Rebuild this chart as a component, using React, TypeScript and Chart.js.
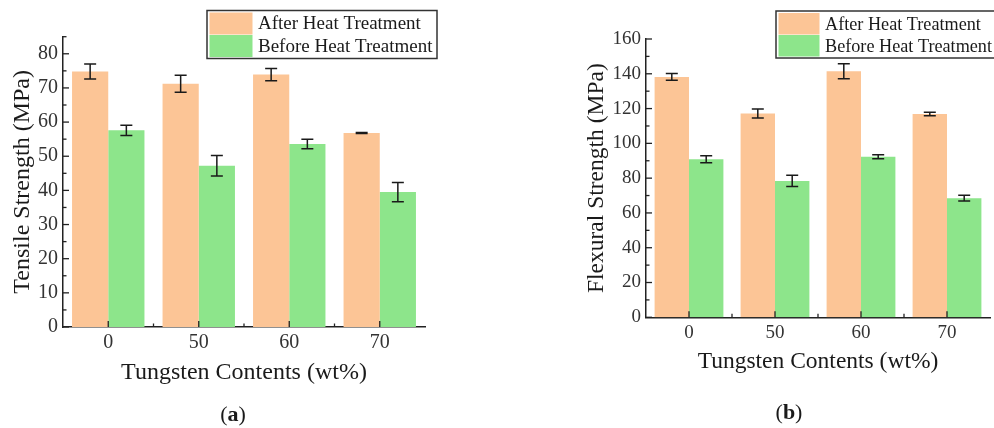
import React, { useEffect, useRef } from "react";
import { Chart, registerables } from "chart.js";

Chart.register(...registerables);

const categories = ["0", "50", "60", "70"];
const seriesNames = ["After Heat Treatment", "Before Heat Treatment"];

const tensileAfter = [74.8, 71.2, 73.9, 56.8];
const tensileAfterErr = [2.2, 2.5, 1.8, 0.12];
const tensileBefore = [57.6, 47.2, 53.6, 39.5];
const tensileBeforeErr = [1.5, 3.0, 1.4, 2.8];
const tensileTicks = [0, 10, 20, 30, 40, 50, 60, 70, 80];

const flexAfter = [138.2, 117.2, 141.5, 116.9];
const flexAfterErr = [1.9, 2.6, 4.3, 1.0];
const flexBefore = [90.9, 78.4, 92.3, 68.5];
const flexBeforeErr = [2.0, 3.2, 1.2, 1.6];
const flexTicks = [0, 20, 40, 60, 80, 100, 120, 140, 160];

const ORANGE = "#FCC596";
const GREEN = "#8DE58B";
const INK = "#1a1a1a";
const FAMILY = "'Liberation Serif', 'Times New Roman', Times, serif";

type Panel = {
  after: number[];
  afterErr: number[];
  before: number[];
  beforeErr: number[];
  yTicks: number[];
  max: number;
  minorStep: number;
  yTitle: string;
  xTitle: string;
  tickSize: number;
  titleSize: number;
  padding: { left: number; top: number; right: number; bottom: number };
  yAxisWidth: number;
  yTitlePad: number;
  xTitlePad: number;
  legendBox: { x: number; y: number; w: number; h: number };
  swatchW: number;
  legendSize: number;
  label: string;
  labelPos: { x: number; y: number };
};

function buildChart(canvas: HTMLCanvasElement, p: Panel) {
  const errors = [p.afterErr, p.beforeErr];

  const errPlugin = {
    id: "errbars",
    afterDatasetsDraw(chart: any) {
      const ctx = chart.ctx;
      const ys = chart.scales.y;
      ctx.save();
      ctx.strokeStyle = INK;
      ctx.lineWidth = 1.5;
      chart.data.datasets.forEach((ds: any, di: number) => {
        const meta = chart.getDatasetMeta(di);
        meta.data.forEach((bar: any, i: number) => {
          const v = ds.data[i];
          const e = errors[di][i];
          const x = bar.x;
          const yt = ys.getPixelForValue(v + e);
          const yb = ys.getPixelForValue(v - e);
          ctx.beginPath();
          ctx.moveTo(x, yt);
          ctx.lineTo(x, yb);
          ctx.moveTo(x - 6, yt);
          ctx.lineTo(x + 6, yt);
          ctx.moveTo(x - 6, yb);
          ctx.lineTo(x + 6, yb);
          ctx.stroke();
        });
      });
      ctx.restore();
    },
  };

  const decoPlugin = {
    id: "deco",
    afterDraw(chart: any) {
      const ctx = chart.ctx;
      const area = chart.chartArea;
      const ys = chart.scales.y;
      const xs = chart.scales.x;
      ctx.save();
      ctx.strokeStyle = "#222";
      ctx.lineWidth = 1.3;
      for (let v = 0; v <= p.max + 1e-9; v += p.minorStep) {
        const py = ys.getPixelForValue(v);
        const major = p.yTicks.some((t) => Math.abs(t - v) < 1e-6);
        const len = major ? 6 : 3.5;
        ctx.beginPath();
        ctx.moveTo(area.left, py);
        ctx.lineTo(area.left + len, py);
        ctx.stroke();
      }
      for (let i = 0; i < categories.length; i++) {
        const px = xs.getPixelForValue(i);
        ctx.beginPath();
        ctx.moveTo(px, area.bottom);
        ctx.lineTo(px, area.bottom - 6);
        ctx.stroke();
        if (i > 0) {
          const mx = (xs.getPixelForValue(i - 1) + px) / 2;
          ctx.beginPath();
          ctx.moveTo(mx, area.bottom);
          ctx.lineTo(mx, area.bottom - 3.5);
          ctx.stroke();
        }
      }
      // legend
      const b = p.legendBox;
      ctx.fillStyle = "#ffffff";
      ctx.fillRect(b.x, b.y, b.w, b.h);
      const rowH = (b.h - 4) / 2;
      const sw = p.swatchW;
      ctx.fillStyle = ORANGE;
      ctx.fillRect(b.x + 2.5, b.y + 2, sw, rowH);
      ctx.fillStyle = GREEN;
      ctx.fillRect(b.x + 2.5, b.y + 2.5 + rowH, sw, rowH);
      ctx.strokeStyle = "#333";
      ctx.lineWidth = 1.5;
      ctx.strokeRect(b.x, b.y, b.w, b.h);
      ctx.fillStyle = INK;
      ctx.font = `${p.legendSize}px ${FAMILY}`;
      ctx.textAlign = "left";
      ctx.textBaseline = "middle";
      ctx.fillText(seriesNames[0], b.x + 2.5 + sw + 5.5, b.y + 2 + rowH / 2 + 1);
      ctx.fillText(seriesNames[1], b.x + 2.5 + sw + 5.5, b.y + 2.5 + rowH * 1.5 + 1);
      // panel label
      const normal = `22px ${FAMILY}`;
      const bold = `bold 22px ${FAMILY}`;
      ctx.font = normal;
      const w1 = ctx.measureText("(").width;
      const w3 = ctx.measureText(")").width;
      ctx.font = bold;
      const w2 = ctx.measureText(p.label).width;
      let x0 = p.labelPos.x - (w1 + w2 + w3) / 2;
      ctx.font = normal;
      ctx.fillText("(", x0, p.labelPos.y);
      x0 += w1;
      ctx.font = bold;
      ctx.fillText(p.label, x0, p.labelPos.y);
      x0 += w2;
      ctx.font = normal;
      ctx.fillText(")", x0, p.labelPos.y);
      ctx.restore();
    },
  };

  return new Chart(canvas, {
    type: "bar",
    data: {
      labels: categories,
      datasets: [
        {
          label: seriesNames[0],
          data: p.after,
          backgroundColor: ORANGE,
          borderWidth: 0,
          categoryPercentage: 0.8,
          barPercentage: 1.0,
        },
        {
          label: seriesNames[1],
          data: p.before,
          backgroundColor: GREEN,
          borderWidth: 0,
          categoryPercentage: 0.8,
          barPercentage: 1.0,
        },
      ],
    },
    options: {
      responsive: false,
      animation: false,
      layout: { padding: p.padding },
      plugins: {
        legend: { display: false },
        tooltip: { enabled: false },
      },
      scales: {
        x: {
          offset: true,
          afterFit: (s: any) => {
            s.height = 60;
          },
          grid: { display: false, drawTicks: false },
          border: { display: true, color: "#222", width: 1.5 },
          ticks: { font: { family: FAMILY, size: p.tickSize }, color: "#333", padding: 4 },
          title: {
            display: true,
            text: p.xTitle,
            color: INK,
            font: { family: FAMILY, size: p.titleSize },
            padding: { top: 0, bottom: p.xTitlePad },
          },
        },
        y: {
          min: 0,
          max: p.max,
          afterBuildTicks: (s: any) => {
            s.ticks = p.yTicks.map((v) => ({ value: v }));
          },
          afterFit: (s: any) => {
            s.width = p.yAxisWidth;
          },
          grid: { display: false, drawTicks: false },
          border: { display: true, color: "#222", width: 1.5 },
          ticks: { font: { family: FAMILY, size: p.tickSize }, color: "#333", padding: 5 },
          title: {
            display: true,
            text: p.yTitle,
            color: INK,
            font: { family: FAMILY, size: p.titleSize },
            padding: { top: p.yTitlePad, bottom: 0 },
          },
        },
      },
    },
    plugins: [errPlugin, decoPlugin],
  } as any);
}

const panelA: Panel = {
  after: tensileAfter,
  afterErr: tensileAfterErr,
  before: tensileBefore,
  beforeErr: tensileBeforeErr,
  yTicks: tensileTicks,
  max: 85,
  minorStep: 5,
  yTitle: "Tensile Strength (MPa)",
  xTitle: "Tungsten Contents (wt%)",
  tickSize: 20,
  titleSize: 24,
  padding: { left: 0, top: 36.7, right: 72, bottom: 41 },
  yAxisWidth: 63,
  yTitlePad: 8.3,
  xTitlePad: 0,
  legendBox: { x: 207, y: 10.5, w: 230, h: 48 },
  swatchW: 43,
  legendSize: 19,
  label: "a",
  labelPos: { x: 233, y: 415 },
};

const panelB: Panel = {
  after: flexAfter,
  afterErr: flexAfterErr,
  before: flexBefore,
  beforeErr: flexBeforeErr,
  yTicks: flexTicks,
  max: 160,
  minorStep: 10,
  yTitle: "Flexural Strength (MPa)",
  xTitle: "Tungsten Contents (wt%)",
  tickSize: 19,
  titleSize: 23.5,
  padding: { left: 80, top: 39, right: 4, bottom: 50.7 },
  yAxisWidth: 69,
  yTitlePad: 5.9,
  xTitlePad: 1.2,
  legendBox: { x: 279, y: 11, w: 240, h: 47 },
  swatchW: 41,
  legendSize: 18.2,
  label: "b",
  labelPos: { x: 292, y: 413 },
};

function PanelCanvas({ panel, left }: { panel: Panel; left: number }) {
  const ref = useRef<HTMLCanvasElement | null>(null);
  useEffect(() => {
    if (!ref.current) return;
    const chart = buildChart(ref.current, panel);
    return () => chart.destroy();
  }, [panel]);
  return (
    <canvas
      ref={ref}
      width={497}
      height={428}
      style={{ position: "absolute", left, top: 0, width: 497, height: 428 }}
    />
  );
}

export default function App() {
  return (
    <div
      style={{
        position: "fixed",
        left: 0,
        top: 0,
        width: 994,
        height: 428,
        background: "#ffffff",
        overflow: "hidden",
      }}
    >
      <PanelCanvas panel={panelA} left={0} />
      <PanelCanvas panel={panelB} left={497} />
    </div>
  );
}
